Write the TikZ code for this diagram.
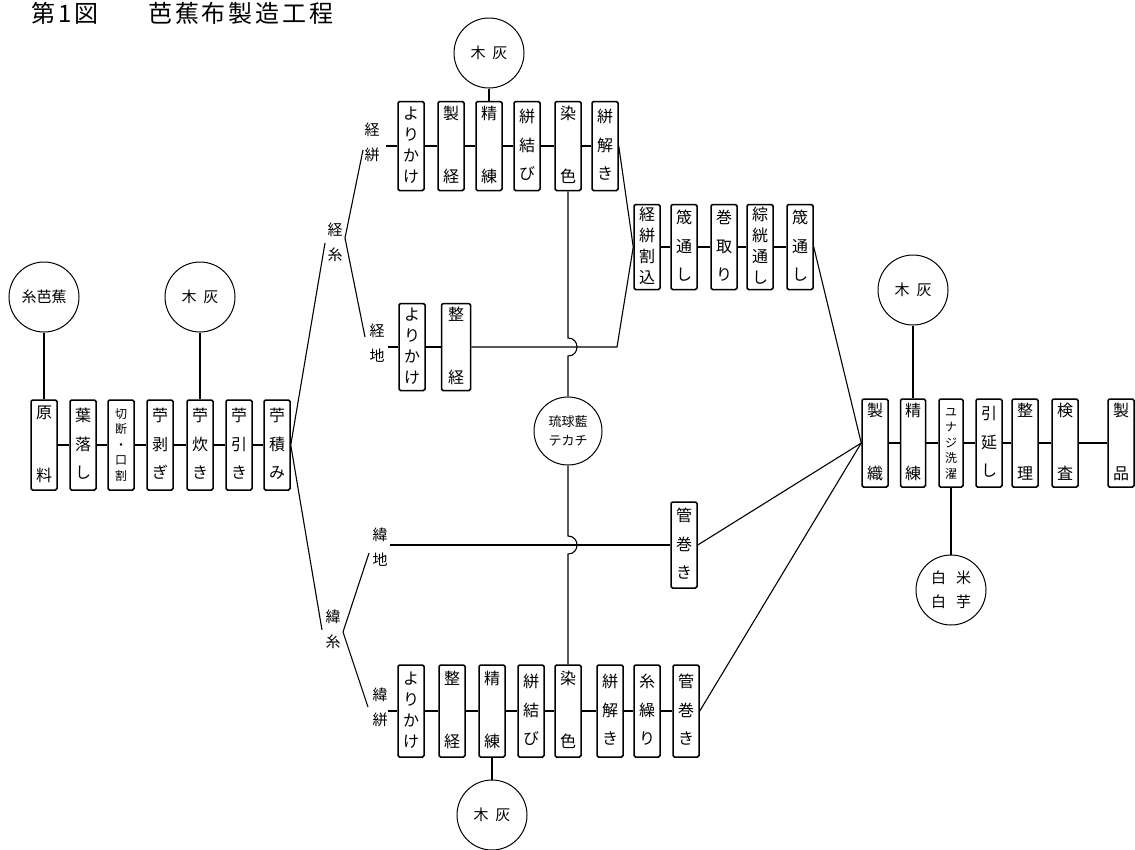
\documentclass[tikz,border=0pt]{standalone}
\usepackage{fontspec}
\setmainfont{Noto Sans CJK JP}
\newfontfamily\ttlfont[LetterSpace=12]{Noto Sans CJK JP}
% one character cell for vertical writing
\newcommand{\cj}[1]{\hbox to 18pt{\hss\vrule height 13pt depth 3pt width 0pt\smash{#1}\hss}}
\newcommand{\cjs}[1]{\hbox to 14pt{\hss\vrule height 10pt depth 2pt width 0pt\smash{#1}\hss}}
\newcommand{\Vtwo}[2]{\vbox to 76pt{\offinterlineskip\cj{#1}\vfill\cj{#2}}}
\newcommand{\Vthree}[3]{\vbox to 70pt{\offinterlineskip\cj{#1}\vfill\cj{#2}\vfill\cj{#3}}}
\newcommand{\Vfour}[4]{\vbox to 76pt{\offinterlineskip\cj{#1}\vfill\cj{#2}\vfill\cj{#3}\vfill\cj{#4}}}
\newcommand{\Vfive}[5]{\vbox to 72pt{\offinterlineskip\fontsize{12}{12}\selectfont\cjs{#1}\vfill\cjs{#2}\vfill\cjs{#3}\vfill\cjs{#4}\vfill\cjs{#5}}}
\newcommand{\Vlab}[2]{\vbox to 38pt{\offinterlineskip\cj{#1}\vfill\cj{#2}}}
\begin{document}
\begin{tikzpicture}[x=1pt,y=-1pt,
  proc/.style={draw,line width=1.5pt,rounded corners=1.5pt,minimum width=26pt,minimum height=89pt,inner sep=0pt,font=\fontsize{16}{16}\selectfont},
  src/.style={draw,circle,line width=1pt,minimum size=70pt,inner sep=0pt,align=center,font=\fontsize{15}{19}\selectfont},
  lab/.style={inner sep=0pt,font=\fontsize{15}{15}\selectfont},
  conn/.style={line width=1.1pt}]
\useasboundingbox (0,0) rectangle (1135,849);

% title
\node[anchor=base west,inner sep=0pt,font=\ttlfont\fontsize{24}{24}\selectfont] (ttl1) at (31,22) {第1図};
\node[anchor=base west,inner sep=0pt,font=\ttlfont\fontsize{24}{24}\selectfont] (ttl2) at (148,22) {芭蕉布製造工程};

% ---- fibre preparation ----
\node[proc,minimum height=90pt] (m1) at (44,445) {\Vtwo{原}{料}};
\node[proc,minimum height=90pt] (m2) at (83,445) {\Vthree{葉}{落}{し}};
\node[proc,minimum height=90pt] (m3) at (121,445) {\Vfive{切}{断}{・}{口}{割}};
\node[proc,minimum height=90pt] (m4) at (160,445) {\Vthree{苧}{剥}{ぎ}};
\node[proc,minimum height=90pt] (m5) at (200,445) {\Vthree{苧}{炊}{き}};
\node[proc,minimum height=90pt] (m6) at (239,445) {\Vthree{苧}{引}{き}};
\node[proc,minimum height=90pt] (m7) at (277,445) {\Vthree{苧}{積}{み}};
\node[src] (c1) at (44,297) {糸芭蕉};
\node[src] (c2) at (200,297) {木\hspace{7pt}灰};
\foreach \a/\b in {m1/m2,m2/m3,m3/m4,m4/m5,m5/m6,m6/m7} \draw[conn] (\a.east) -- (\b.west);
\draw[conn] (c1.south) -- (m1.north);
\draw[conn] (c2.south) -- (m5.north);

% ---- warp ----
\node[lab] (L1) at (335,243) {\Vlab{経}{糸}};
\node[lab] (L2) at (372,143) {\Vlab{経}{絣}};
\node[lab] (L3) at (377,344) {\Vlab{経}{地}};
\coordinate (p1) at (325,243);
\coordinate (v1) at (345,238);
\coordinate (t1) at (363,150);
\coordinate (u1) at (365,337);
\coordinate (k1) at (386,146);
\coordinate (k4) at (388,347);
\draw[conn] (m7.east) -- (p1);
\draw[conn] (t1) -- (v1) -- (u1);

% warp kasuri row
\node[proc] (a1) at (411,146) {\Vfour{よ}{り}{か}{け}};
\node[proc] (a2) at (451,146) {\Vtwo{製}{経}};
\node[proc] (a3) at (489,146) {\Vtwo{精}{練}};
\node[proc] (a4) at (527,146) {\Vthree{絣}{結}{び}};
\node[proc] (a5) at (568,146) {\Vtwo{染}{色}};
\node[proc] (a6) at (605,146) {\Vthree{絣}{解}{き}};
\node[src] (c3) at (489,53) {木\hspace{7pt}灰};
\draw[conn] (k1) -- (a1.west);
\foreach \a/\b in {a1/a2,a2/a3,a3/a4,a4/a5,a5/a6} \draw[conn] (\a.east) -- (\b.west);
\draw[conn] (c3.south) -- (a3.north);

% plain warp row
\node[proc,minimum height=87pt] (b1) at (412,347) {\Vfour{よ}{り}{か}{け}};
\node[proc,minimum height=87pt,minimum width=29pt] (b2) at (456,347) {\Vtwo{整}{経}};
\draw[conn] (k4) -- (b1.west);
\draw[conn] (b1.east) -- (b2.west);

% warp setting row
\node[proc,minimum height=85pt] (r1) at (647,247) {\Vfour{経}{絣}{割}{込}};
\node[proc,minimum height=85pt] (r2) at (684,247) {\Vthree{筬}{通}{し}};
\node[proc,minimum height=85pt] (r3) at (724,247) {\Vthree{巻}{取}{り}};
\node[proc,minimum height=85pt] (r4) at (760,247) {\Vfour{綜}{絖}{通}{し}};
\node[proc,minimum height=85pt] (r5) at (800,247) {\Vthree{筬}{通}{し}};
\foreach \a/\b in {r1/r2,r2/r3,r3/r4,r4/r5} \draw[conn] (\a.east) -- (\b.west);
\coordinate (q1) at (617,347);
\draw[conn] (a6.east) -- (r1.west);
\draw[conn] (b2.east) -- (q1) -- (r1.west);

% ---- weft ----
\node[lab] (L4) at (333,630) {\Vlab{緯}{糸}};
\node[lab] (L5) at (380,548) {\Vlab{緯}{地}};
\node[lab] (L6) at (380,708) {\Vlab{緯}{絣}};
\coordinate (p2) at (322,630);
\coordinate (v2) at (343,632);
\coordinate (t2) at (369,553);
\coordinate (u2) at (368,707);
\coordinate (k2) at (390,545);
\coordinate (k3) at (388,711);
\draw[conn] (m7.east) -- (p2);
\draw[conn] (t2) -- (v2) -- (u2);

% plain weft
\node[proc,minimum height=86pt] (g1) at (684,545) {\Vthree{管}{巻}{き}};
\draw[conn] (k2) -- (g1.west);

% weft kasuri row
\node[proc,minimum height=92pt] (e1) at (411,711) {\Vfour{よ}{り}{か}{け}};
\node[proc,minimum height=92pt] (e2) at (452,711) {\Vtwo{整}{経}};
\node[proc,minimum height=92pt] (e3) at (492,711) {\Vtwo{精}{練}};
\node[proc,minimum height=92pt] (e4) at (531,711) {\Vthree{絣}{結}{び}};
\node[proc,minimum height=92pt] (e5) at (568,711) {\Vtwo{染}{色}};
\node[proc,minimum height=92pt] (e6) at (610,711) {\Vthree{絣}{解}{き}};
\node[proc,minimum height=92pt] (e7) at (647,711) {\Vthree{糸}{繰}{り}};
\node[proc,minimum height=92pt] (e8) at (686,711) {\Vthree{管}{巻}{き}};
\node[src] (c6) at (492,815) {木\hspace{7pt}灰};
\draw[conn] (k3) -- (e1.west);
\foreach \a/\b in {e1/e2,e2/e3,e3/e4,e4/e5,e5/e6,e6/e7,e7/e8} \draw[conn] (\a.east) -- (\b.west);
\draw[conn] (e3.south) -- (c6.north);

% ---- indigo, hopping over the plain warp and plain weft lines ----
\node[src,minimum size=68pt,font=\fontsize{13}{19}\selectfont] (c7) at (568,431) {琉球藍\\テカチ};
\draw[conn] (a5.south) -- (568,338) .. controls (580,338) and (580,356) .. (568,356) -- (c7.north);
\draw[conn] (c7.south) -- (568,536) .. controls (580,536) and (580,554) .. (568,554) -- (e5.north);

% ---- weaving and finishing ----
\node[proc,minimum height=88pt] (f1) at (875,443) {\Vtwo{製}{織}};
\node[proc,minimum height=88pt,minimum width=25pt] (f2) at (913,443) {\Vtwo{精}{練}};
\node[proc,minimum height=88pt,minimum width=24pt] (f3) at (951,443) {\Vfive{ユ}{ナ}{ジ}{洗}{濯}};
\node[proc,minimum height=88pt] (f4) at (989,443) {\Vthree{引}{延}{し}};
\node[proc,minimum height=88pt] (f5) at (1025,443) {\Vtwo{整}{理}};
\node[proc,minimum height=88pt] (f6) at (1065,443) {\Vtwo{検}{査}};
\node[proc,minimum height=88pt] (f7) at (1121,443) {\Vtwo{製}{品}};
\node[src] (c4) at (913,290) {木\hspace{7pt}灰};
\node[src,font=\fontsize{15}{24}\selectfont] (c5) at (951,590) {白\hspace{10pt}米\\白\hspace{10pt}芋};
\foreach \a/\b in {f1/f2,f2/f3,f3/f4,f4/f5,f5/f6,f6/f7} \draw[conn] (\a.east) -- (\b.west);
\draw[conn] (c4.south) -- (f2.north);
\draw[conn] (f3.south) -- (c5.north);
\draw[conn] (r5.east) -- (f1.west);
\draw[conn] (g1.east) -- (f1.west);
\draw[conn] (e8.east) -- (f1.west);
\end{tikzpicture}
\end{document}
